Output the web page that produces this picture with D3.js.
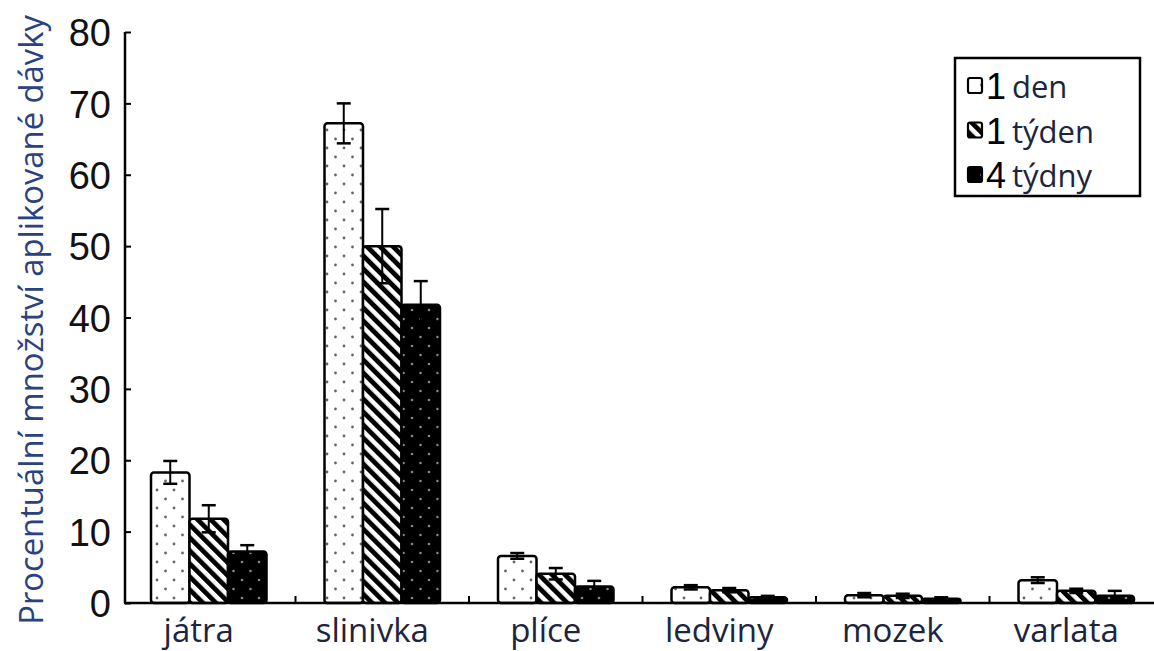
<!DOCTYPE html>
<html><head><meta charset="utf-8">
<script src="https://cdn.jsdelivr.net/npm/d3@7"></script>
<style>body{margin:0;background:#fff}svg{display:block}</style>
</head><body>
<svg id="c" width="1154" height="651"></svg>
<script>
const categories = ["játra","slinivka","plíce","ledviny","mozek","varlata"];
const seriesNames = ["1 den","1 týden","4 týdny"];
const seriesDigits = ["1","1","4"];
const seriesWords = ["den","týden","týdny"];
const den1 = [18.3, 67.2, 6.6, 2.2, 1.1, 3.2];
const tyden1 = [11.8, 50.0, 4.1, 1.8, 1.0, 1.7];
const tydny4 = [7.2, 41.8, 2.3, 0.8, 0.6, 1.0];
const den1Err = [1.6, 2.8, 0.4, 0.3, 0.3, 0.4];
const tyden1Err = [1.9, 5.2, 0.8, 0.3, 0.3, 0.3];
const tydny4Err = [0.9, 3.3, 0.8, 0.2, 0.2, 0.7];
const yTicks = [0,10,20,30,40,50,60,70,80];
const yLabel = "Procentuální množství aplikované dávky";

const values = [den1, tyden1, tydny4];
const errs = [den1Err, tyden1Err, tydny4Err];
const fills = ["url(#pDots)","url(#pHatch)","url(#pBlack)"];
const textColor = "#1c2540";

const svg = d3.select("#c");
const defs = svg.append("defs");
// dotted
let p = defs.append("pattern").attr("id","pDots").attr("patternUnits","userSpaceOnUse").attr("width",17).attr("height",18);
p.append("rect").attr("width",17).attr("height",18).attr("fill","#fff");
p.append("circle").attr("cx",4).attr("cy",4).attr("r",1.4).attr("fill","#666");
p.append("circle").attr("cx",12.5).attr("cy",13).attr("r",1.4).attr("fill","#666");
// hatch
p = defs.append("pattern").attr("id","pHatch").attr("patternUnits","userSpaceOnUse").attr("width",9.2).attr("height",9.2).attr("patternTransform","rotate(-45)");
p.append("rect").attr("width",9.2).attr("height",9.2).attr("fill","#fff");
p.append("rect").attr("width",4.8).attr("height",9.2).attr("fill","#000");
// black dotted
p = defs.append("pattern").attr("id","pBlack").attr("patternUnits","userSpaceOnUse").attr("width",17).attr("height",18);
p.append("rect").attr("width",17).attr("height",18).attr("fill","#000");
p.append("circle").attr("cx",4).attr("cy",4).attr("r",1.3).attr("fill","#888");
p.append("circle").attr("cx",12.5).attr("cy",13).attr("r",1.3).attr("fill","#888");

const y = d3.scaleLinear().domain([0,80]).range([603,32]);
const x0 = d3.scaleBand().domain(categories).range([122,1163]).padding(0);
const x1 = d3.scaleBand().domain(seriesNames).range([29,144.5]).padding(0);

// bars
const g = svg.append("g");
categories.forEach((c,ci)=>{
  seriesNames.forEach((s,si)=>{
    const v = values[si][ci], e = errs[si][ci];
    const bx = x0(c)+x1(s), bw = x1.bandwidth();
    g.append("rect").attr("x",bx).attr("y",y(v)).attr("width",bw).attr("height",y(0)-y(v))
      .attr("rx",3).attr("fill",fills[si]).attr("stroke","#000").attr("stroke-width",2.5);
    const cx = bx+bw/2;
    g.append("line").attr("x1",cx).attr("x2",cx).attr("y1",y(v+e)).attr("y2",y(Math.max(0,v-e))).attr("stroke","#000").attr("stroke-width",2);
    [v+e, Math.max(0,v-e)].forEach(t=>{
      g.append("line").attr("x1",cx-7).attr("x2",cx+7).attr("y1",y(t)).attr("y2",y(t)).attr("stroke","#000").attr("stroke-width",2.5);
    });
  });
});

// baseline & boundary ticks
svg.append("line").attr("x1",124).attr("x2",1154).attr("y1",y(0)).attr("y2",y(0)).attr("stroke","#000").attr("stroke-width",2.5);
categories.slice(1).forEach(c=>{
  svg.append("line").attr("x1",x0(c)).attr("x2",x0(c)).attr("y1",y(0)).attr("y2",y(0)-7).attr("stroke","#000").attr("stroke-width",2);
});

// y axis
const ya = svg.append("g").attr("transform","translate(125,0)")
  .call(d3.axisLeft(y).tickValues(yTicks).tickSize(-6).tickPadding(14).tickFormat(d3.format("d")));
ya.select(".domain").attr("stroke-width",2.5).attr("d","M0,32V603");
ya.selectAll(".tick line").attr("stroke-width",2);
ya.selectAll(".tick text").attr("font-family","'Liberation Sans', Arial, sans-serif").attr("font-size",38).attr("fill","#111").attr("dy","0.36em");

// category labels
svg.append("g").selectAll("text").data(categories).join("text")
  .attr("x",d=>x0(d)+x0.bandwidth()/2 - 10).attr("y",642)
  .attr("text-anchor","middle").attr("font-family","'Open Sans', sans-serif").attr("font-size",33)
  .attr("fill",textColor).text(d=>d);

// y label
const yl = svg.append("text").attr("transform","translate(43,320) rotate(-90)")
  .attr("text-anchor","middle").attr("font-family","'Open Sans', sans-serif").attr("font-size",26)
  .attr("fill","#2a4280").text(yLabel);
const L = yl.node().getComputedTextLength();
yl.attr("font-size", 26*610/L);

// legend
const lg = svg.append("g");
lg.append("rect").attr("x",955).attr("y",58).attr("width",185).attr("height",138).attr("fill","#fff").attr("stroke","#000").attr("stroke-width",2.5);
seriesNames.forEach((s,i)=>{
  const cy = 86 + i*44.5;
  lg.append("rect").attr("x",968).attr("y",cy-8).attr("width",14).attr("height",15).attr("rx",2)
    .attr("fill",fills[i]).attr("stroke","#000").attr("stroke-width",2.2);
  lg.append("text").attr("x",986).attr("y",cy+13).attr("font-family","'Liberation Sans', Arial, sans-serif").attr("font-size",36).attr("fill","#000").text(seriesDigits[i]);
  lg.append("text").attr("x",1012).attr("y",cy+12).attr("font-family","'Open Sans', sans-serif").attr("font-size",31).attr("fill",textColor).text(seriesWords[i]);
});
</script>
</body></html>
